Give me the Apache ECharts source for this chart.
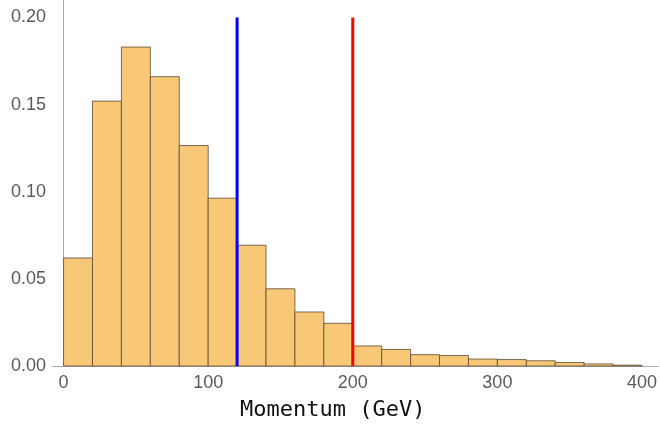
<!DOCTYPE html>
<html><head><meta charset="utf-8">
<script src="https://cdn.jsdelivr.net/npm/echarts@6/dist/echarts.min.js"></script>
<style>html,body{margin:0;padding:0;background:#fff}#c{width:660px;height:434px}</style>
</head><body><div id="c"></div>
<script>
const binStarts = [0,20,40,60,80,100,120,140,160,180,200,220,240,260,280,300,320,340,360,380];
const binWidth = 20;
const heights = [0.062,0.152,0.183,0.166,0.1265,0.0963,0.0693,0.0443,0.031,0.0245,0.0115,0.0095,0.0065,0.006,0.004,0.0037,0.003,0.002,0.0012,0.0005];
const cutBlue = 120;
const cutRed = 200;
const lineTop = 0.2;
const xTicks = [0,100,200,300,400];
const yTicks = [0,0.05,0.10,0.15,0.20];
const xTitle = 'Momentum\u2009(GeV)';

const chart = echarts.init(document.getElementById('c'));
const histData = binStarts.map((s,i)=>[s, s+binWidth, heights[i]]);
chart.setOption({
  animation:false,
  backgroundColor:'#fff',
  grid:{left:52,right:0,top:0,bottom:68},
  xAxis:{type:'value',min:-8,max:411,
    axisLine:{show:true,lineStyle:{color:'#aaa'}},
    axisTick:{show:false},
    splitLine:{show:false},
    axisLabel:{color:'#5a5a5a',fontFamily:'Liberation Sans, Arial',fontSize:18,margin:8,
      customValues:xTicks, formatter:v=>String(v)}
  },
  yAxis:{type:'value',min:0,max:0.21,
    axisLine:{show:true,lineStyle:{color:'#aaa'}},
    axisTick:{show:false},
    splitLine:{show:false},
    axisLabel:{color:'#5a5a5a',fontFamily:'Liberation Sans, Arial',fontSize:18,margin:6,
      customValues:yTicks, formatter:v=>v.toFixed(2)}
  },
  graphic:[{type:'text',left:240,top:399,
    style:{text:xTitle,fill:'#111',font:'22px "DejaVu Sans Mono"'}}],
  series:[
    {type:'custom',data:histData,
      renderItem:(params,api)=>{
        const p0=api.coord([api.value(0),api.value(2)]);
        const p1=api.coord([api.value(1),0]);
        return {type:'rect',shape:{x:p0[0],y:p0[1],width:p1[0]-p0[0],height:p1[1]-p0[1]},
          style:{fill:'#F9C877',stroke:'#5a4a38',lineWidth:0.8}};
      },
      encode:{x:[0,1],y:2}
    },
    {type:'line',data:[[cutBlue,0],[cutBlue,lineTop]],symbol:'none',
      lineStyle:{color:'#0000ff',width:3},z:5},
    {type:'line',data:[[cutRed,0],[cutRed,lineTop]],symbol:'none',
      lineStyle:{color:'#ff0000',width:3},z:5}
  ]
});
</script></body></html>
